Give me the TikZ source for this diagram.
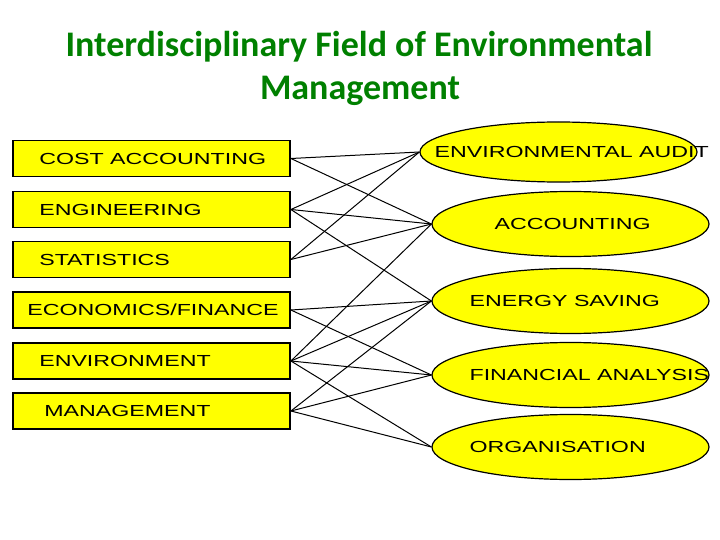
\documentclass[tikz,border=0pt]{standalone}
\usepackage{fontspec}
\usetikzlibrary{shapes.geometric,positioning}
\newfontfamily\titlefont{Carlito}
\newfontfamily\capsfont[FakeStretch=1.45]{Liberation Sans}
\definecolor{titlegreen}{RGB}{0,128,0}
\definecolor{boxyellow}{RGB}{255,255,0}

\begin{document}
\begin{tikzpicture}[x=1pt, y=-1pt,
  discbox/.style={draw=black, line width=1.8pt, fill=boxyellow, minimum width=277pt, minimum height=36pt, inner sep=0pt},
  areaell/.style={ellipse, draw=black, line width=1.2pt, fill=boxyellow, minimum width=277pt, minimum height=65pt, inner sep=0pt},
  captext/.style={font=\capsfont\fontsize{16}{18}\selectfont, inner sep=0pt, anchor=west},
  link/.style={line width=1pt}]
\useasboundingbox (0,0) rectangle (720,540);
%% --- Title ---
\node[titlegreen, font=\titlefont\bfseries\fontsize{36}{43}\selectfont, anchor=base, inner sep=0pt] (title1) at (359,57) {Interdisciplinary Field of Environmental};
\node[titlegreen, font=\titlefont\bfseries\fontsize{36}{43}\selectfont, anchor=base, inner sep=0pt] (title2) at (360,100) {Management};
%% --- Left: disciplines ---
\node[discbox] (cost) at (151.5,158.5) {};
\node[discbox] (eng)  at (151.5,209.5) {};
\node[discbox] (stat) at (151.5,259.5) {};
\node[discbox] (econ) at (151.5,310) {};
\node[discbox] (envi) at (151.5,361) {};
\node[discbox] (mgmt) at (151.5,411) {};
\node[captext, right=27pt of cost.west] (costtxt) {COST ACCOUNTING};
\node[captext, right=27pt of eng.west]  (engtxt)  {ENGINEERING};
\node[captext, right=27pt of stat.west] (stattxt) {STATISTICS};
\node[captext, right=15pt of econ.west] (econtxt) {ECONOMICS/FINANCE};
\node[captext, right=27pt of envi.west] (envitxt) {ENVIRONMENT};
\node[captext, right=32pt of mgmt.west] (mgmttxt) {MANAGEMENT};
%% --- Right: fields of application ---
\node[areaell, minimum height=60pt] (audit) at (558.5,152) {};
\node[areaell] (acc)    at (570.5,224) {};
\node[areaell] (energy) at (570.5,301) {};
\node[areaell] (fin)    at (570.5,375) {};
\node[areaell] (org)    at (570.5,447) {};
\node[captext, right=15pt of audit.west]  (audittxt)  {ENVIRONMENTAL AUDIT};
\node[captext, right=63pt of acc.west]    (acctxt)    {ACCOUNTING};
\node[captext, right=38pt of energy.west] (energytxt) {ENERGY SAVING};
\node[captext, right=38pt of fin.west]    (fintxt)    {FINANCIAL ANALYSIS};
\node[captext, right=38pt of org.west]    (orgtxt)    {ORGANISATION};
%% --- Links ---
\foreach \a/\b in {cost/audit, cost/acc, eng/audit, eng/acc, eng/energy,
                   stat/audit, stat/acc, econ/energy, econ/fin,
                   envi/acc, envi/energy, envi/fin, envi/org,
                   mgmt/energy, mgmt/fin, mgmt/org}
  \draw[link] (\a.east) -- (\b.west);
\end{tikzpicture}
\end{document}
